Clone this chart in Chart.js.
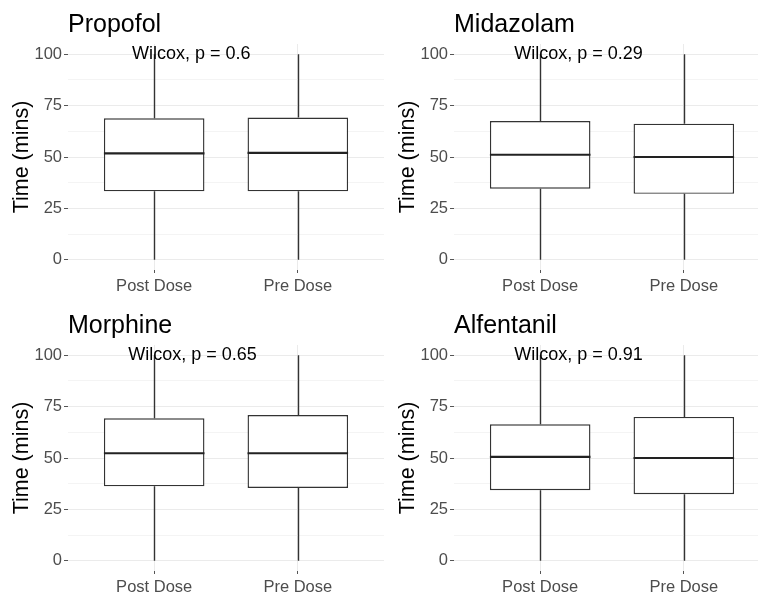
<!DOCTYPE html>
<html>
<head>
<meta charset="utf-8">
<script src="https://cdn.jsdelivr.net/npm/chart.js@4/dist/chart.umd.min.js"></script>
<style>
  html, body { margin: 0; padding: 0; background: #ffffff; overflow: hidden; }
  body { width: 758px; height: 592px; position: relative; }
  .panel { position: absolute; width: 390px; height: 300px; }
  .panel canvas { display: block; }
</style>
</head>
<body>
<div class="panel" style="left:0px;top:0px"><canvas id="c0" width="390" height="300"></canvas></div>
<div class="panel" style="left:386px;top:0px"><canvas id="c1" width="390" height="300"></canvas></div>
<div class="panel" style="left:0px;top:301px"><canvas id="c2" width="390" height="300"></canvas></div>
<div class="panel" style="left:386px;top:301px"><canvas id="c3" width="390" height="300"></canvas></div>
<script>
// Session time by dosing group, one panel per drug
const groups = ['Post Dose', 'Pre Dose'];
const drugs = ['Propofol', 'Midazolam', 'Morphine', 'Alfentanil'];
const pValues = ['0.6', '0.29', '0.65', '0.91'];

// Five-number summaries per drug: [Post Dose, Pre Dose]
const whiskerLow  = [[0, 0], [0, 0], [0, 0], [0, 0]];
const q1          = [[33.3, 33.3], [34.6, 32.1], [36.2, 35.4], [34.3, 32.4]];
const medians     = [[51.8, 52.0], [51.1, 50.0], [52.3, 52.3], [50.5, 50.0]];
const q3          = [[68.8, 69.2], [67.5, 66.2], [69.3, 70.9], [66.4, 70.0]];
const whiskerHigh = [[100, 100], [100, 100], [100, 100], [100, 100]];

const yTicks = [0, 25, 50, 75, 100];
const yGrid = [0, 12.5, 25, 37.5, 50, 62.5, 75, 87.5, 100];

const FONT = '"Liberation Sans", Arial, Helvetica, sans-serif';
const INK = '#333333';

// where the test label starts on the x (group) scale
const labelX = [0.845, 0.82, 0.82, 0.82];

function boxParts(p) {
  return {
    id: 'boxParts' + p,
    beforeDatasetsDraw(chart) {
      const { ctx } = chart;
      const y = chart.scales.y;
      const meta = chart.getDatasetMeta(0);
      ctx.save();
      ctx.strokeStyle = INK;
      ctx.lineWidth = 1.4;
      meta.data.forEach((bar, i) => {
        const x = Math.round(bar.x) + 0.5;
        ctx.beginPath();
        ctx.moveTo(x, y.getPixelForValue(whiskerHigh[p][i]));
        ctx.lineTo(x, y.getPixelForValue(q3[p][i]));
        ctx.moveTo(x, y.getPixelForValue(q1[p][i]));
        ctx.lineTo(x, y.getPixelForValue(whiskerLow[p][i]));
        ctx.stroke();
      });
      ctx.restore();
    },
    afterDatasetsDraw(chart) {
      const { ctx } = chart;
      const y = chart.scales.y;
      const xs = chart.scales.x;
      const meta = chart.getDatasetMeta(0);
      ctx.save();
      ctx.strokeStyle = '#222222';
      ctx.lineWidth = 2.2;
      meta.data.forEach((bar, i) => {
        const half = bar.width / 2;
        const ym = y.getPixelForValue(medians[p][i]);
        ctx.beginPath();
        ctx.moveTo(bar.x - half, ym);
        ctx.lineTo(bar.x + half, ym);
        ctx.stroke();
      });
      ctx.fillStyle = '#000000';
      ctx.font = '18px ' + FONT;
      ctx.textAlign = 'left';
      ctx.textBaseline = 'alphabetic';
      ctx.fillText('Wilcox, p = ' + pValues[p], xs.getPixelForValue(labelX[p]), y.getPixelForValue(100) + 5);
      ctx.restore();
    }
  };
}

function makePanel(p) {
  const isMajor = v => yTicks.includes(v);
  return new Chart(document.getElementById('c' + p), {
    type: 'bar',
    data: {
      datasets: [{
        data: groups.map((g, i) => ({ x: i + 1, y: [q1[p][i], q3[p][i]] })),
        backgroundColor: '#ffffff',
        borderColor: INK,
        borderWidth: 1.4,
        borderSkipped: false,
        barPercentage: 0.7,
        categoryPercentage: 1.0
      }]
    },
    options: {
      responsive: false,
      animation: false,
      events: [],
      layout: { padding: { left: 0, top: 0, right: 6, bottom: 0 } },
      plugins: {
        legend: { display: false },
        tooltip: { enabled: false },
        title: {
          display: true,
          text: drugs[p],
          align: 'start',
          fullSize: false,
          color: '#000000',
          font: { family: FONT, size: 25, weight: 'normal' },
          padding: { top: 10, bottom: 4 }
        }
      },
      scales: {
        x: {
          type: 'linear',
          offset: false,
          min: 0.4,
          max: 2.6,
          afterBuildTicks: s => { s.ticks = groups.map((g, i) => ({ value: i + 1 })); },
          afterFit: s => { s.height = 30; },
          border: { display: false },
          grid: { offset: false, color: '#ebebeb', lineWidth: 1, tickLength: 3, tickColor: '#555555' },
          ticks: {
            autoSkip: false,
            maxRotation: 0,
            padding: 4,
            color: '#4d4d4d',
            font: { family: FONT, size: 16.5 },
            callback: v => groups[Math.round(v) - 1]
          }
        },
        y: {
          type: 'linear',
          min: -5,
          max: 105,
          afterBuildTicks: s => { s.ticks = yGrid.map(v => ({ value: v })); },
          afterFit: s => { s.width = 68; },
          border: { display: false },
          grid: {
            color: c => (c.tick && isMajor(c.tick.value)) ? '#ebebeb' : '#f4f4f4',
            lineWidth: 1,
            tickLength: 4,
            tickColor: c => (c.tick && isMajor(c.tick.value)) ? '#555555' : 'rgba(0,0,0,0)'
          },
          ticks: {
            autoSkip: false,
            padding: 2,
            color: '#4d4d4d',
            font: { family: FONT, size: 16.5 },
            callback: v => isMajor(v) ? String(v) : ''
          },
          title: {
            display: true,
            text: 'Time (mins)',
            color: '#000000',
            font: { family: FONT, size: 21.5 },
            padding: { top: 9, bottom: 0 }
          }
        }
      }
    },
    plugins: [boxParts(p)]
  });
}

drugs.forEach((d, p) => makePanel(p));
</script>
</body>
</html>
